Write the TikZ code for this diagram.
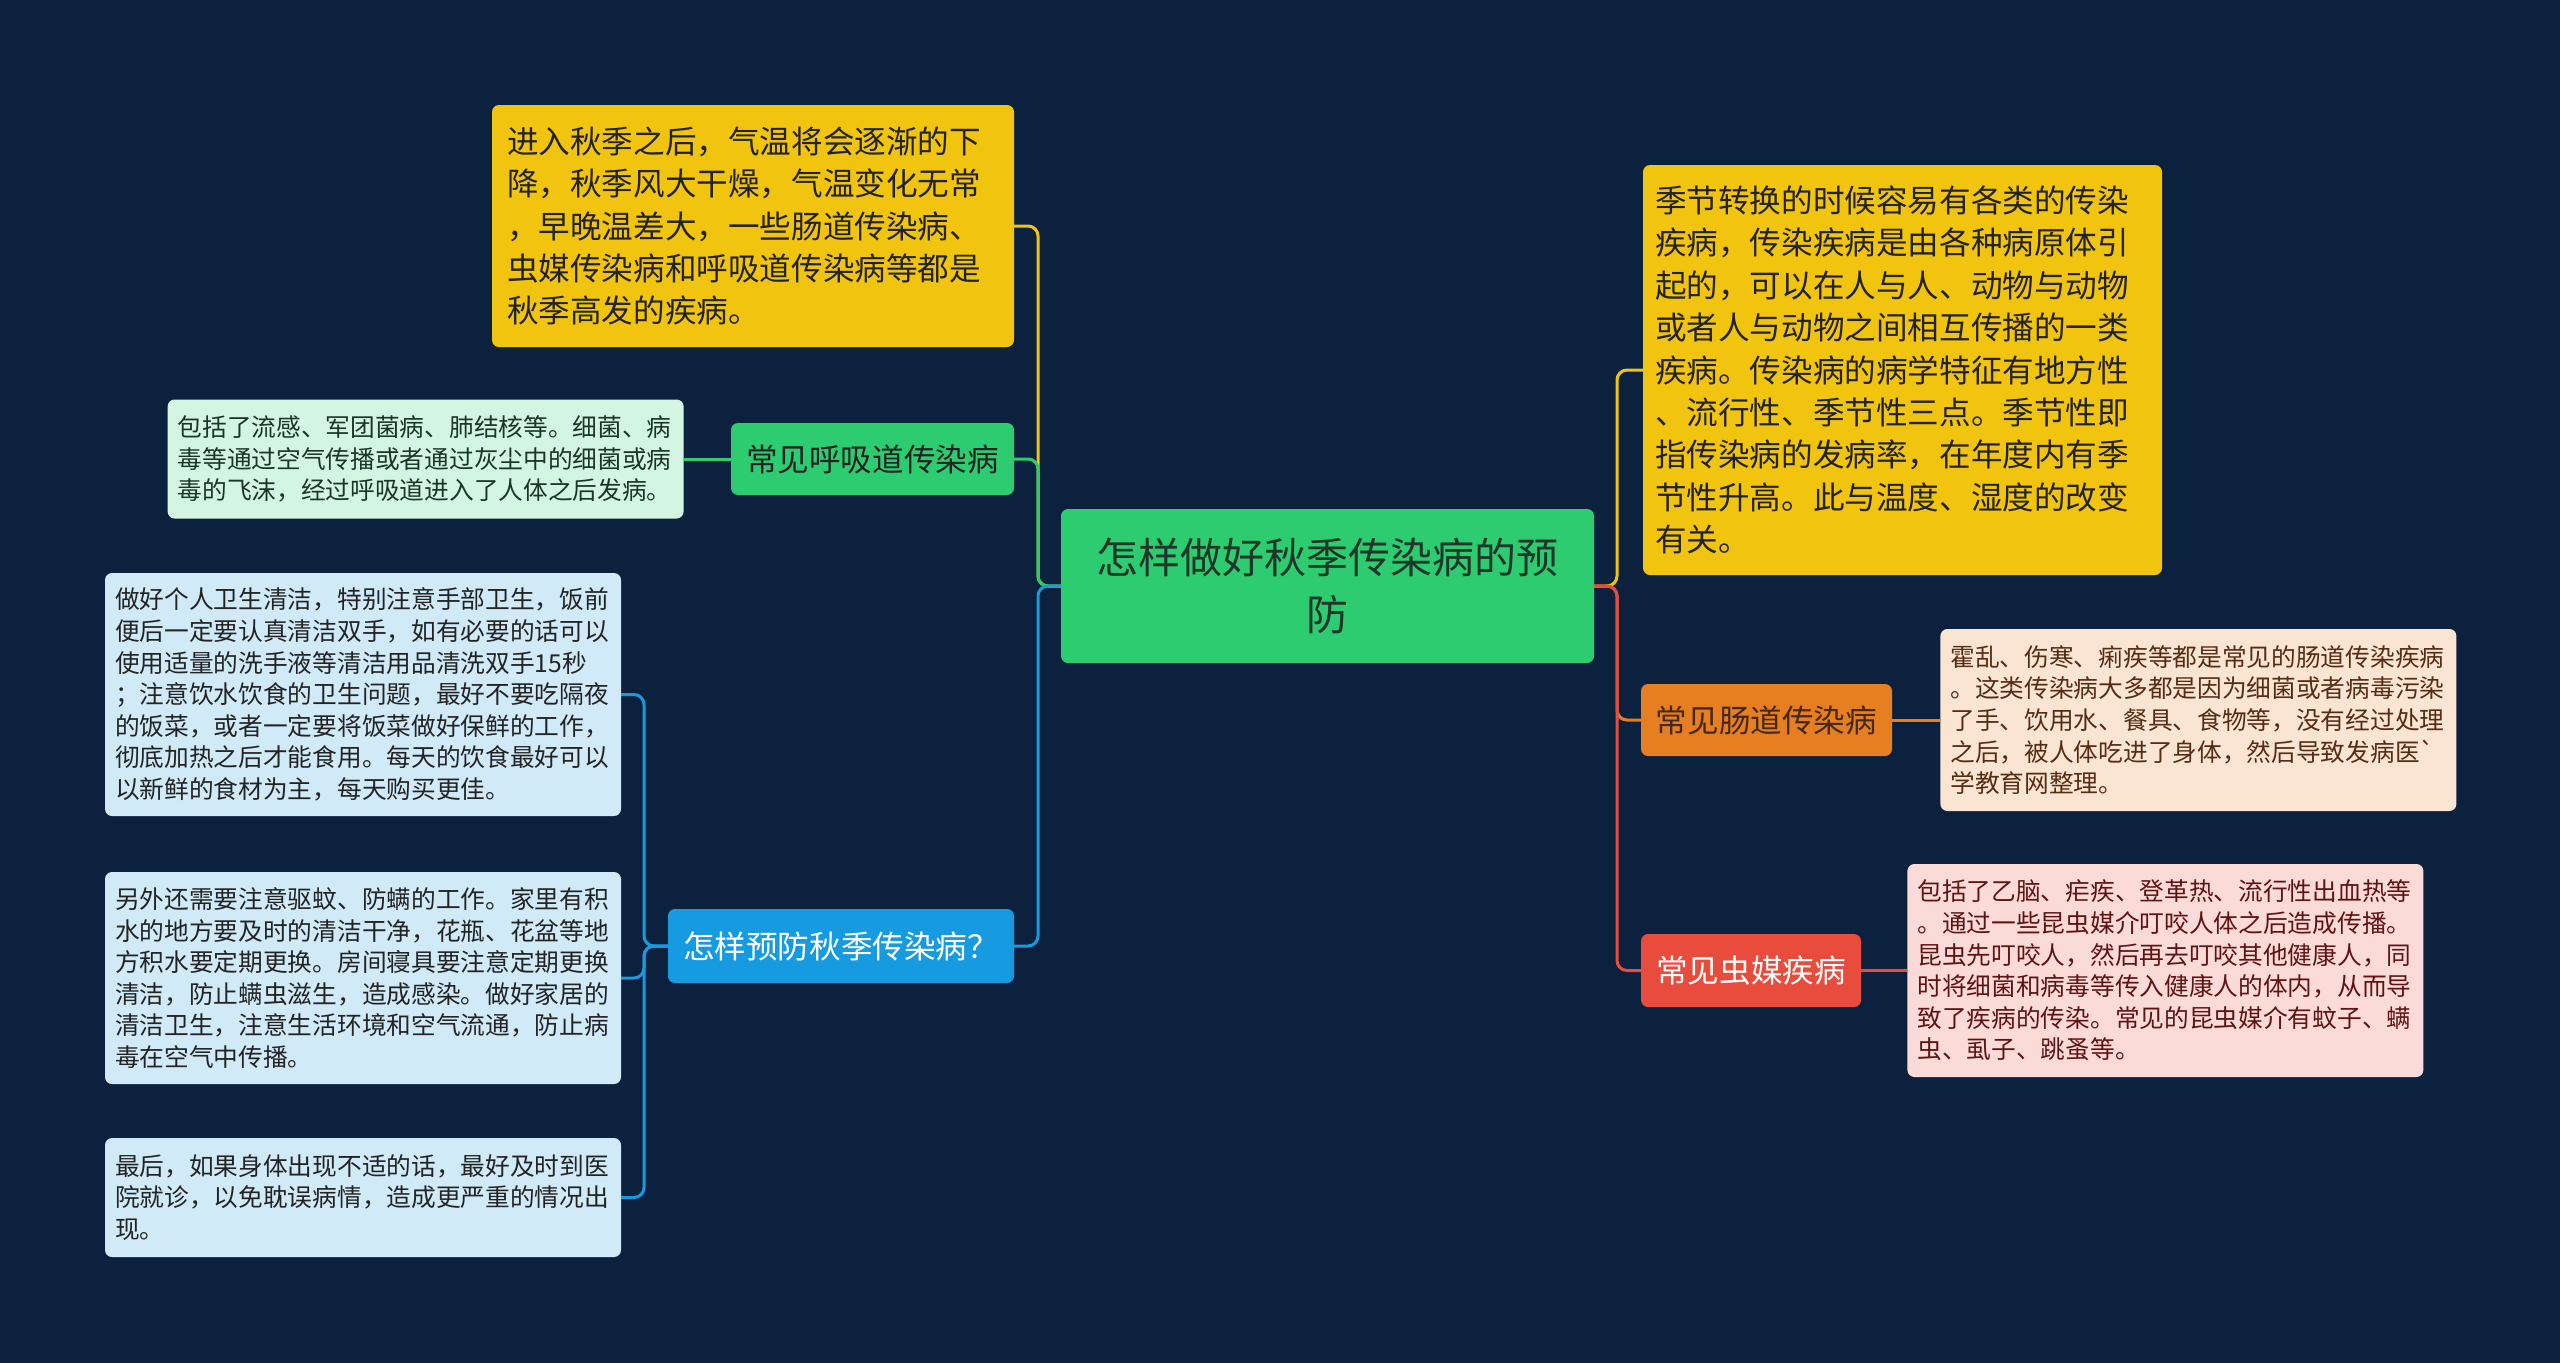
\documentclass[tikz,border=0pt]{standalone}
\usepackage{fontspec}
\setmainfont{Noto Sans CJK SC}
\usetikzlibrary{positioning}
\definecolor{bgnavy}{RGB}{12,33,61}
\definecolor{rootgreen}{RGB}{46,204,113}
\definecolor{ylw}{RGB}{241,196,15}
\definecolor{mint}{RGB}{213,245,227}
\definecolor{skyblue}{RGB}{22,155,225}
\definecolor{paleblue}{RGB}{208,234,248}
\definecolor{orng}{RGB}{230,126,34}
\definecolor{peach}{RGB}{250,229,211}
\definecolor{tomato}{RGB}{231,76,60}
\definecolor{pink}{RGB}{250,219,216}
\definecolor{darktext}{RGB}{35,35,35}
\begin{document}
\begin{tikzpicture}[x=1pt,y=-1pt,node distance=47pt]
  \tikzstyle{box}=[rounded corners=7pt,inner ysep=0pt,text=darktext]
  \tikzstyle{big}=[box,font=\fontsize{31.6}{42.4}\selectfont]
  \tikzstyle{topic}=[big,align=center,inner xsep=0pt]
  \tikzstyle{notebox}=[box,align=left,inner xsep=10pt,text width=496pt,font=\fontsize{24.7}{31.6}\selectfont]
  \tikzstyle{link}=[line width=3pt,rounded corners=10pt]
  \fill[bgnavy] (0,0) rectangle (2560,1363);
  \node[box,fill=rootgreen,align=center,minimum width=533pt,minimum height=154pt,text={rgb,255:red,30;green,55;blue,40},font=\fontsize{42}{57}\selectfont] (root) at (1327.5,586) {怎样做好秋季传染病的预\\防};
  % left side
  \node[big,fill=ylw,align=left,inner xsep=15pt,text width=492pt,minimum height=242pt] (autumn) at (753,226)
    {进入秋季之后，气温将会逐渐的下\\降，秋季风大干燥，气温变化无常\\，早晚温差大，一些肠道传染病、\\虫媒传染病和呼吸道传染病等都是\\秋季高发的疾病。};
  \node[topic,fill=rootgreen,minimum width=283pt,minimum height=72pt] (resp) at (872.5,459) {常见呼吸道传染病};
  \node[notebox,fill=mint,minimum height=119pt,left=47pt of resp,text={rgb,255:red,25;green,55;blue,35}] (respinfo)
    {包括了流感、军团菌病、肺结核等。细菌、病\\毒等通过空气传播或者通过灰尘中的细菌或病\\毒的飞沫，经过呼吸道进入了人体之后发病。};
  \node[topic,fill=skyblue,text=white,minimum width=346pt,minimum height=74pt] (prev) at (841,946) {怎样预防秋季传染病？};
  \node[notebox,fill=paleblue,minimum height=243pt] (hygiene) at (363,694.5)
    {做好个人卫生清洁，特别注意手部卫生，饭前\\便后一定要认真清洁双手，如有必要的话可以\\使用适量的洗手液等清洁用品清洗双手15秒\\；注意饮水饮食的卫生问题，最好不要吃隔夜\\的饭菜，或者一定要将饭菜做好保鲜的工作，\\彻底加热之后才能食用。每天的饮食最好可以\\以新鲜的食材为主，每天购买更佳。};
  \node[notebox,fill=paleblue,minimum height=212pt] (mites) at (363,978)
    {另外还需要注意驱蚊、防螨的工作。家里有积\\水的地方要及时的清洁干净，花瓶、花盆等地\\方积水要定期更换。房间寝具要注意定期更换\\清洁，防止螨虫滋生，造成感染。做好家居的\\清洁卫生，注意生活环境和空气流通，防止病\\毒在空气中传播。};
  \node[notebox,fill=paleblue,minimum height=119pt] (doctor) at (363,1197.5)
    {最后，如果身体出现不适的话，最好及时到医\\院就诊，以免耽误病情，造成更严重的情况出\\现。};
  % right side
  \node[big,fill=ylw,align=left,inner xsep=12pt,text width=495pt,minimum height=410pt] (season) at (1902.5,370)
    {季节转换的时候容易有各类的传染\\疾病，传染疾病是由各种病原体引\\起的，可以在人与人、动物与动物\\或者人与动物之间相互传播的一类\\疾病。传染病的病学特征有地方性\\、流行性、季节性三点。季节性即\\指传染病的发病率，在年度内有季\\节性升高。此与温度、湿度的改变\\有关。};
  \node[topic,fill=orng,text={rgb,255:red,70;green,40;blue,20},minimum width=251pt,minimum height=72pt] (gut) at (1766.5,720) {常见肠道传染病};
  \node[notebox,fill=peach,minimum height=182pt,right=48pt of gut,text={rgb,255:red,85;green,45;blue,20}] (gutinfo)
    {霍乱、伤寒、痢疾等都是常见的肠道传染疾病\\。这类传染病大多都是因为细菌或者病毒污染\\了手、饮用水、餐具、食物等，没有经过处理\\之后，被人体吃进了身体，然后导致发病医\textasciigrave\\学教育网整理。};
  \node[topic,fill=tomato,text=white,minimum width=220pt,minimum height=73pt] (insect) at (1751,970.5) {常见虫媒疾病};
  \node[notebox,fill=pink,minimum height=213pt,right=46pt of insect,text={rgb,255:red,95;green,20;blue,20}] (insectinfo)
    {包括了乙脑、疟疾、登革热、流行性出血热等\\。通过一些昆虫媒介叮咬人体之后造成传播。\\昆虫先叮咬人，然后再去叮咬其他健康人，同\\时将细菌和病毒等传入健康人的体内，从而导\\致了疾病的传染。常见的昆虫媒介有蚊子、螨\\虫、虱子、跳蚤等。};
  \coordinate (lj) at (1038,586);
  \coordinate (rj) at (1617,586);
  \coordinate (bj) at (644,946);
  \draw[link,ylw] (root.west) -- (lj) |- (autumn.east);
  \draw[link,rootgreen] (root.west) -- (lj) |- (resp.east);
  \draw[link,skyblue] (root.west) -- (lj) |- (prev.east);
  \draw[link,rootgreen] (resp.west) -- (respinfo.east);
  \draw[link,skyblue] (prev.west) -- (bj) |- (hygiene.east);
  \draw[link,skyblue] (prev.west) -- (bj) |- (mites.east);
  \draw[link,skyblue] (prev.west) -- (bj) |- (doctor.east);
  \draw[link,ylw] (root.east) -- (rj) |- (season.west);
  \draw[link,orng] (root.east) -- (rj) |- (gut.west);
  \draw[link,tomato] (root.east) -- (rj) |- (insect.west);
  \draw[link,orng] (gut.east) -- (gutinfo.west);
  \draw[link,tomato] (insect.east) -- (insectinfo.west);
\end{tikzpicture}
\end{document}
